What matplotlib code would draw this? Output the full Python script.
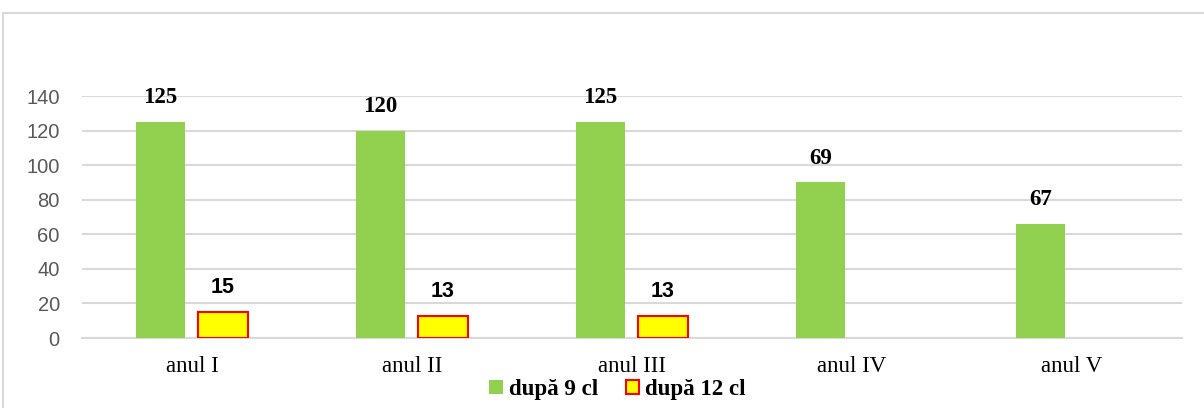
import matplotlib.pyplot as plt
import numpy as np
from matplotlib.patches import Rectangle

categories = ['anul I', 'anul II', 'anul III', 'anul IV', 'anul V']
dupa9 = [125, 120, 125, 90, 66]
dupa9_labels = ['125', '120', '125', '69', '67']
dupa12 = [15, 13, 13]
dupa12_labels = ['15', '13', '13']

fig = plt.figure(figsize=(12.04, 4.08), dpi=100)
# outer chart frame
fig.patches.append(Rectangle((3/1204, -0.01), 1.02, (408-13)/408 + 0.01,
                             transform=fig.transFigure, fill=False,
                             edgecolor='#d9d9d9', linewidth=1.5))
ax = fig.add_axes([82/1204, 70/408, 1100/1204, (338-96)/408])

x = np.arange(len(categories))
w = 0.225
b1 = ax.bar(x - 0.143, dupa9, width=w, color='#92d050', label='după 9 cl', zorder=3)
x2 = x[:len(dupa12)]
b2 = ax.bar(x2 + 0.14, dupa12, width=w, color='#ffff00', edgecolor='#ff0000',
            linewidth=1.5, label='după 12 cl', zorder=3)

for xi, v, t in zip(x - 0.143, dupa9, dupa9_labels):
    ax.annotate(t, (xi, v), xytext=(0, 10), textcoords='offset points',
                ha='center', va='bottom', fontsize=16.5, fontweight='bold',
                family='Liberation Serif')
for xi, v, t in zip(x2 + 0.14, dupa12, dupa12_labels):
    ax.annotate(t, (xi, v), xytext=(0, 10), textcoords='offset points',
                ha='center', va='bottom', fontsize=15.5, fontweight='bold',
                family='Liberation Sans')

ax.set_xlim(-0.5, len(categories) - 0.5)
ax.set_ylim(0, 140)
ax.set_yticks(np.arange(0, 141, 20))
ax.set_xticks(x)
ax.set_xticklabels(categories, family='Liberation Serif', fontsize=16.5)
ax.tick_params(axis='y', labelsize=14.5, colors='#595959', length=0, pad=16)
ax.tick_params(axis='x', length=0, pad=13)
for lab in ax.get_yticklabels():
    lab.set_family('Liberation Sans')
ax.yaxis.grid(True, color='#d9d9d9', linewidth=1.5, zorder=0)
for s in ['top', 'right', 'left']:
    ax.spines[s].set_visible(False)
ax.spines['bottom'].set_color('#d9d9d9')
ax.spines['bottom'].set_linewidth(1.5)

fig.legend(handles=[b1, b2], loc='center', bbox_to_anchor=(0.513, 0.045),
           ncol=2, frameon=False, prop={'family': 'Liberation Serif', 'weight': 'bold', 'size': 16.5},
           handlelength=0.6, handleheight=0.6, handletextpad=0.25, columnspacing=1.2)

fig.savefig('out.png', dpi=100)
